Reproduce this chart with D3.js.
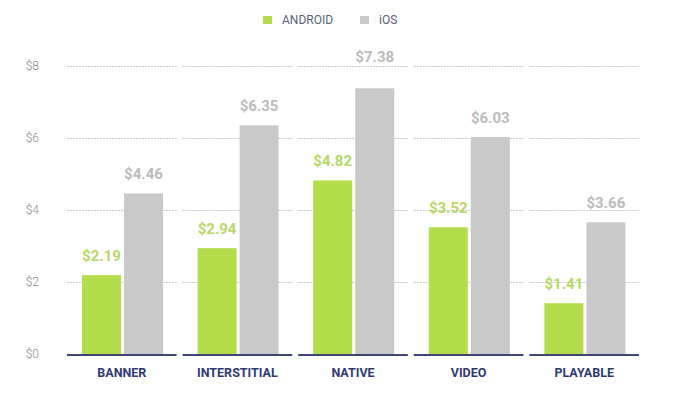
<!DOCTYPE html>
<html><head><meta charset="utf-8">
<script src="https://cdn.jsdelivr.net/npm/d3@7"></script>
<style>body{margin:0;background:#fff}svg{display:block;font-family:Roboto,"Open Sans",sans-serif}</style>
</head><body><svg id="c" width="699" height="393"></svg>
<script>
const categories = ["BANNER","INTERSTITIAL","NATIVE","VIDEO","PLAYABLE"];
const seriesNames = ["ANDROID","iOS"];
const android = [2.19,2.94,4.82,3.52,1.41];
const ios = [4.46,6.35,7.38,6.03,3.66];
const yTicks = [0,2,4,6,8];
const colors = ["#b3dd4b","#c9c9c9"];
const labelColors = ["#b8d86a","#bcbcbc"];

const svg = d3.select("#c");
const x0 = 67, x1 = 645, yBase = 354, yTop = 66;
const x = d3.scaleBand().domain(categories).range([x0, x1]).paddingInner(0).paddingOuter(0);
const y = d3.scaleLinear().domain([0, 8]).range([yBase, yTop]);
const xs = d3.scaleBand().domain(seriesNames).range([15, 96]).paddingInner(0.072);
const segGap = 6;

// grid segments per category
yTicks.filter(t => t > 0).forEach(t => {
  categories.forEach(c => {
    svg.append("line")
      .attr("x1", x(c)).attr("x2", x(c) + x.bandwidth() - segGap)
      .attr("y1", y(t) + 0.5).attr("y2", y(t) + 0.5)
      .attr("stroke", "#c8c8c8").attr("stroke-width", 1).attr("stroke-dasharray", "2,1");
  });
});

// y axis labels
const yAxis = d3.axisLeft(y).tickValues(yTicks).tickFormat(d => "$" + d).tickSize(0);
const ga = svg.append("g").attr("transform", "translate(42,0)").call(yAxis);
ga.select(".domain").remove();
ga.selectAll("text").attr("fill", "#8a8a8a").attr("font-size", 12).attr("font-family", "Roboto,sans-serif").attr("font-weight", 300).attr("dx", 0);

// bars
const series = [android, ios];
series.forEach((vals, si) => {
  svg.selectAll(null).data(vals).enter().append("rect")
    .attr("x", (d, i) => x(categories[i]) + xs(seriesNames[si]))
    .attr("width", xs.bandwidth())
    .attr("y", d => y(d))
    .attr("height", d => yBase - y(d))
    .attr("fill", colors[si]);
});

// value labels
series.forEach((vals, si) => {
  svg.selectAll(null).data(vals).enter().append("text")
    .attr("x", (d, i) => x(categories[i]) + xs(seriesNames[si]) + xs.bandwidth() / 2)
    .attr("y", d => {
      let yy = y(d) - 14;
      if (yy > y(8) - 6 && yy < y(8) + 16) yy = y(8) - 4;
      return yy;
    })
    .attr("text-anchor", "middle")
    .attr("font-size", 15).attr("font-weight", 700)
    .attr("fill", labelColors[si])
    .text(d => "$" + d.toFixed(2));
});

// baseline segments
categories.forEach(c => {
  svg.append("line")
    .attr("x1", x(c)).attr("x2", x(c) + x.bandwidth() - segGap)
    .attr("y1", yBase + 1).attr("y2", yBase + 1)
    .attr("stroke", "#3d4577").attr("stroke-width", 2);
});

// category labels
svg.selectAll(null).data(categories).enter().append("text")
  .attr("x", d => x(d) + (x.bandwidth() - segGap) / 2)
  .attr("y", 377)
  .attr("text-anchor", "middle")
  .attr("font-size", 12.5).attr("font-weight", 700)
  .attr("fill", "#2f3a74")
  .text(d => d);

// legend
const legX = [263, 360];
seriesNames.forEach((n, i) => {
  svg.append("rect").attr("x", legX[i]).attr("y", 16).attr("width", 9).attr("height", 8).attr("fill", colors[i]);
  svg.append("text").attr("x", legX[i] + 19).attr("y", 24)
    .attr("font-size", 12).attr("fill", "#5a5f78").text(n);
});
</script></body></html>
